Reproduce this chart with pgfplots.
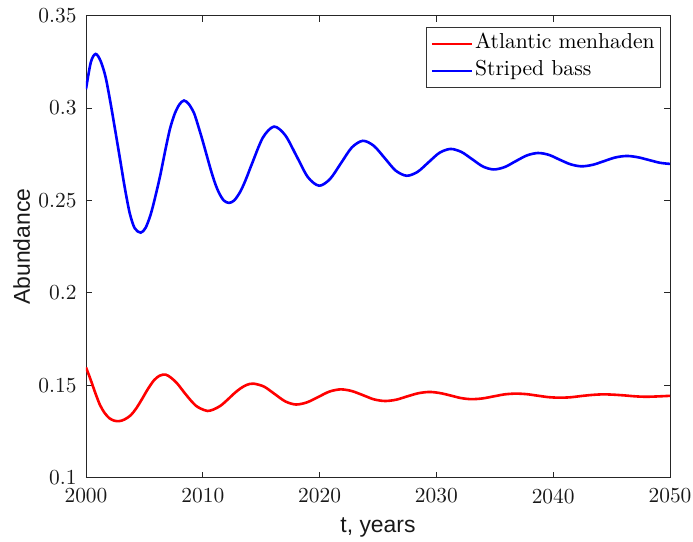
\documentclass[border=0pt]{standalone}
\usepackage{fontspec}
\setmainfont{lmroman10-regular}[Extension=.otf]
\newfontfamily\labelfont{Liberation Sans}
\usepackage{pgfplots}
\pgfplotsset{compat=1.18}

\begin{document}
\begin{tikzpicture}
\begin{axis}[
  scale only axis, width=584bp, height=462bp,
  xmin=2000, xmax=2050, ymin=0.1, ymax=0.35,
  xtick={2000,2010,2020,2030,2040,2050},
  ytick={0.1,0.15,0.2,0.25,0.3,0.35},
  tick align=inside, major tick length=6bp,
  axis line style={black!85, line width=0.8bp},
  every tick/.style={black!85, line width=0.8bp},
  /pgf/number format/assume math mode=true,
  /pgf/number format/1000 sep={},
  ticklabel style={font=\fontsize{21.5}{25}\selectfont, black!90, inner sep=0pt},
  xticklabel style={yshift=-10.8bp},
  yticklabel style={xshift=-9.3bp},
  xlabel={t, years}, ylabel={Abundance},
  label style={font=\labelfont\fontsize{23}{27}\selectfont, black!90},
  xlabel style={at={(axis description cs:0.5,-0.1195)}, anchor=base},
  ylabel style={at={(axis description cs:-0.0959,0.5)}, anchor=base},
  legend style={at={(axis description cs:0.9846,0.9755)}, anchor=north east,
    draw=black!80, line width=0.7bp, inner sep=4bp, row sep=2bp,
    font=\fontsize{21.7}{26}\selectfont,
    nodes={inner sep=2bp, text height=15.5bp, text depth=5.5bp}},
  legend cell align=left,
  legend image code/.code={\draw[#1] (0bp,0bp) -- (40bp,0bp);},
]
\addplot[red, line width=2.6bp, smooth] coordinates {
(2000.00,0.1597) (2000.4,0.1530) (2000.8,0.1458) (2001.2,0.1393) (2001.6,0.1350)
(2002.0,0.1322) (2002.4,0.1309) (2002.83,0.1306) (2003.3,0.1315) (2003.83,0.1338)
(2004.3,0.1375) (2004.82,0.1428) (2005.3,0.1480) (2005.82,0.1527) (2006.3,0.1552)
(2006.82,0.1558) (2007.3,0.1540) (2007.82,0.1509) (2008.4,0.1462) (2008.96,0.1419)
(2009.4,0.1390) (2009.82,0.1374) (2010.41,0.1361) (2010.95,0.1370) (2011.53,0.1390)
(2012.1,0.1421) (2012.67,0.1455) (2013.2,0.1482) (2013.75,0.1502) (2014.33,0.1509)
(2015.24,0.1493) (2016.15,0.1453) (2017.06,0.1413) (2017.97,0.1396)
(2018.93,0.1408) (2019.89,0.1437) (2020.84,0.1466) (2021.8,0.1478)
(2022.75,0.1469) (2023.7,0.1447) (2024.65,0.1424) (2025.6,0.1415)
(2026.55,0.1422) (2027.5,0.1440) (2028.45,0.1457) (2029.4,0.1464)
(2030.3,0.1458) (2031.2,0.1445) (2032.1,0.1431) (2033.0,0.1425)
(2033.95,0.1429) (2034.9,0.1440) (2035.85,0.1451) (2036.8,0.1455)
(2037.73,0.1452) (2038.65,0.1444) (2039.58,0.1436) (2040.5,0.1433)
(2041.45,0.1435) (2042.4,0.1442) (2043.35,0.1448) (2044.3,0.1451)
(2045.23,0.1449) (2046.15,0.1445) (2047.08,0.1440) (2048.0,0.1438)
(2049.0,0.1440) (2050,0.1443)
};
\addlegendentry{Atlantic menhaden}
\addplot[blue, line width=2.6bp, smooth] coordinates {
(2000.00,0.3103) (2000.42,0.3250) (2000.83,0.3293) (2001.25,0.3255) (2001.67,0.3170)
(2002.08,0.3035) (2002.50,0.2880) (2002.92,0.2722) (2003.33,0.2566) (2003.75,0.2430)
(2004.17,0.2350) (2004.68,0.2326) (2005.1,0.2352) (2005.54,0.2425) (2005.95,0.2525)
(2006.37,0.2640) (2006.8,0.2775) (2007.2,0.2890) (2007.6,0.2970) (2008.0,0.3020)
(2008.39,0.3041) (2008.8,0.3022) (2009.25,0.2973) (2009.6,0.2905) (2009.96,0.2829)
(2010.32,0.2748) (2010.68,0.2667) (2011.04,0.2595) (2011.39,0.2541) (2011.8,0.2500)
(2012.24,0.2487) (2012.7,0.2501) (2013.23,0.2550) (2013.7,0.2616) (2014.18,0.2694)
(2015.14,0.2840) (2016.1,0.2900)
(2017.06,0.2853) (2018.03,0.2740) (2018.99,0.2627) (2019.95,0.2580)
(2020.89,0.2616) (2021.83,0.2702) (2022.76,0.2787) (2023.7,0.2823)
(2024.64,0.2796) (2025.58,0.2729) (2026.51,0.2662) (2027.45,0.2634)
(2028.39,0.2655) (2029.33,0.2707) (2030.26,0.2758) (2031.2,0.2779)
(2032.13,0.2763) (2033.05,0.2724) (2033.98,0.2684) (2034.9,0.2668)
(2035.85,0.2681) (2036.8,0.2713) (2037.75,0.2744) (2038.7,0.2757)
(2039.63,0.2747) (2040.55,0.2721) (2041.48,0.2696) (2042.4,0.2685)
(2043.38,0.2693) (2044.35,0.2713) (2045.33,0.2733) (2046.3,0.2741)
(2047.25,0.2734) (2048.2,0.2719) (2049.15,0.2704) (2050,0.2698)
};
\addlegendentry{Striped bass}
\end{axis}
\pgfresetboundingbox
\path (current axis.south west) ++(-86bp,-63.5bp) coordinate (bbA);
\path (current axis.north east) ++(23bp,15.7bp) coordinate (bbB);
\path[use as bounding box] (bbA) rectangle (bbB);
\end{tikzpicture}
\end{document}
